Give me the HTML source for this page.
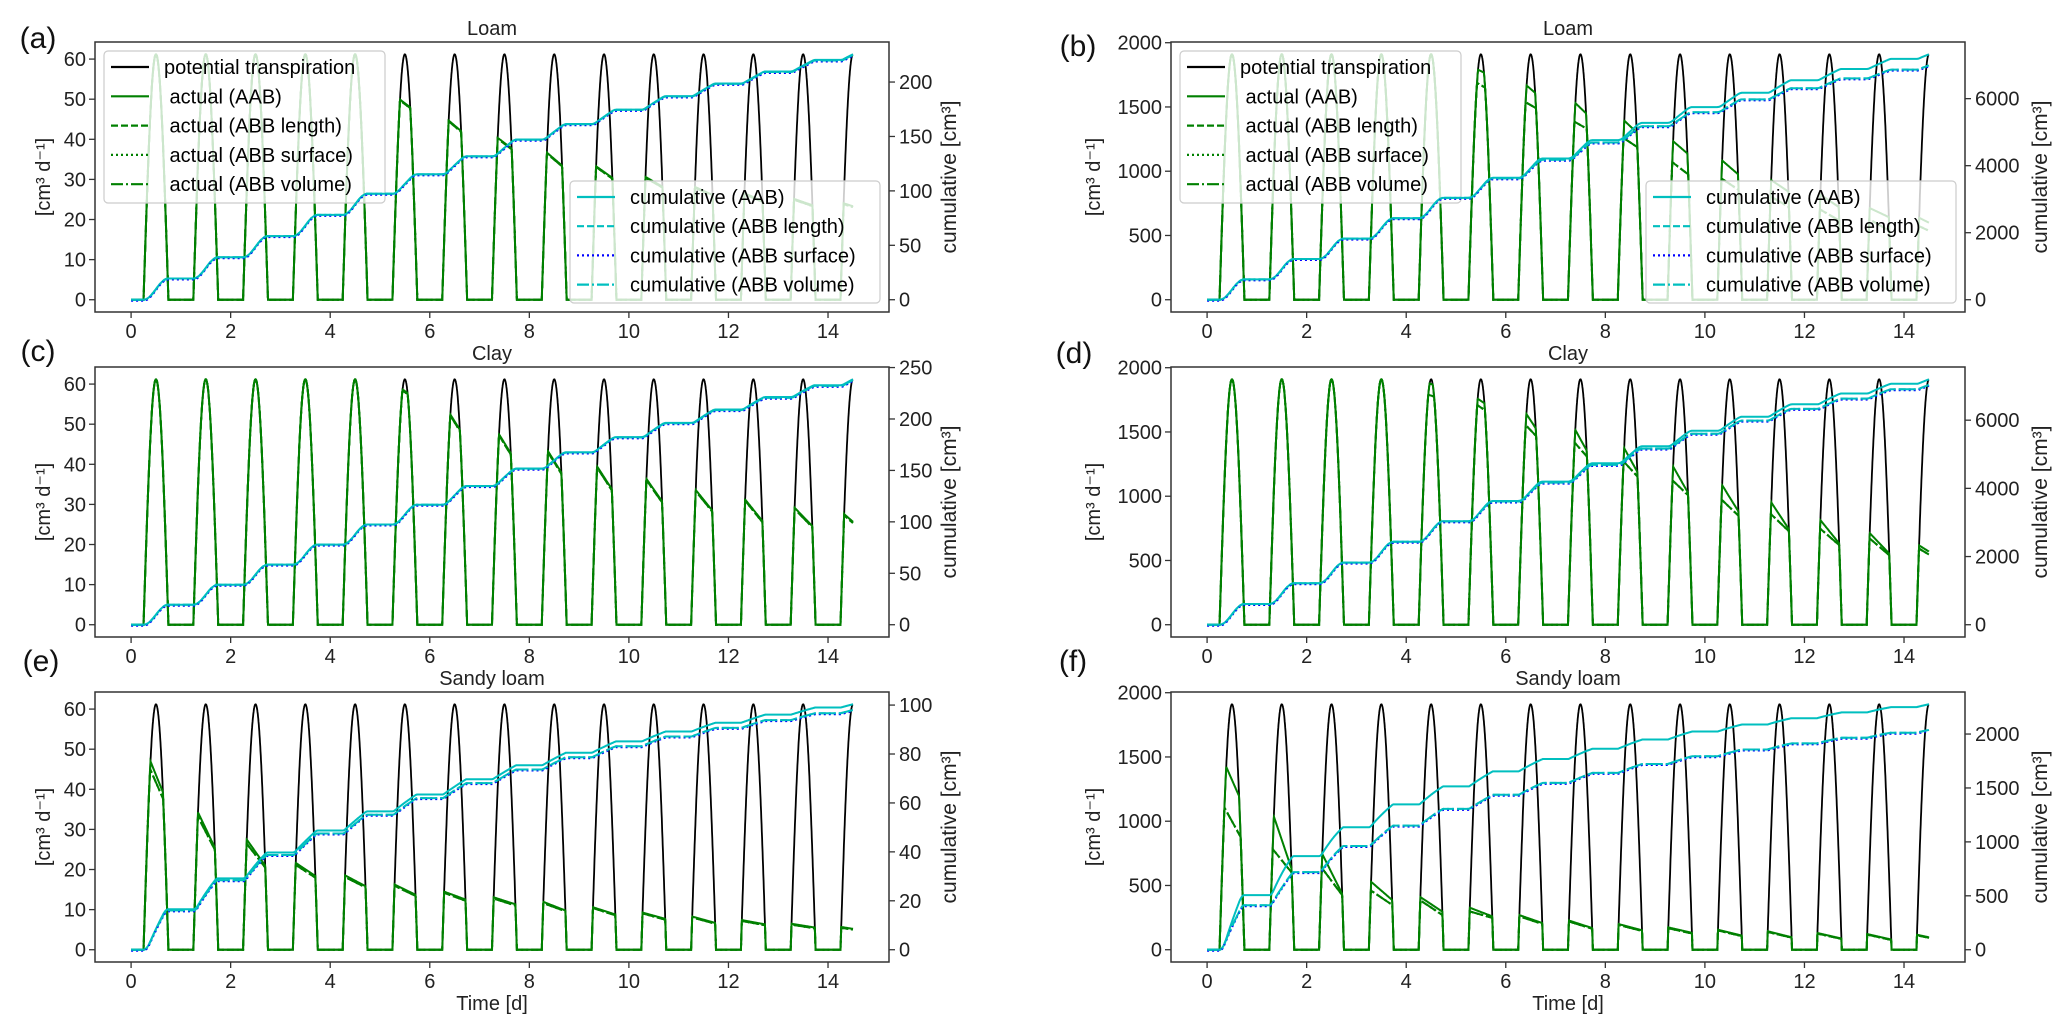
<!DOCTYPE html>
<html><head><meta charset="utf-8">
<style>
html,body{margin:0;padding:0;background:#fff;}
svg{display:block;font-family:"Liberation Sans","DejaVu Sans",sans-serif;}
</style></head>
<body>
<svg id="fig" width="2067" height="1033" viewBox="0 0 2067 1033" xmlns="http://www.w3.org/2000/svg"></svg>
<script>
// ---- data: per-day limit values (value at day fraction 0.35 = start, 0.7 = end); null = unlimited ----
const dayIndex = [0,1,2,3,4,5,6,7,8,9,10,11,12,13,14];
const potPeakSmall = 61.2;
const potPeakLarge = 1910;
// (a) Loam, small
const aAabStart = [null,null,null,null,null,50.4,45,40.5,36.7,33.2,30.5,28,26.4,25,23.9];
const aAabEnd   = [null,null,null,null,null,47.1,41.3,37.2,33,30.1,28,26,24.5,23.5,22.5];
const aAbbStart = [null,null,null,null,null,50.2,44.8,40.3,36.5,33,30.3,27.8,26.2,24.8,23.7];
const aAbbEnd   = [null,null,null,null,null,46.9,41.1,37,32.8,29.9,27.8,25.8,24.3,23.3,22.3];
// (b) Loam, large
const bAabStart = [null,null,null,null,null,1807,1690,1548,1405,1237,1082,926,810,706,629];
const bAabEnd   = [null,null,null,null,null,1742,1573,1418,1276,1121,965,836,719,642,560];
const bAbbStart = [null,null,null,null,null,1703,1548,1392,1263,1069,939,797,694,616,564];
const bAbbEnd   = [null,null,null,null,null,1625,1470,1315,1172,965,849,719,616,538,500];
// (c) Clay, small
const cAabStart = [null,null,null,null,null,59.5,53.7,48.3,43.8,39.7,36.4,33.5,31,28.9,27.3];
const cAabEnd   = [null,null,null,null,null,56.6,46.7,41.3,36.8,33,30.2,28.1,25.6,24.4,23.5];
const cAbbStart = [null,null,null,null,null,59.2,53.4,48,43.5,39.4,36.1,33.2,30.7,28.6,27];
const cAbbEnd   = [null,null,null,null,null,56.3,46.4,41,36.5,32.7,29.9,27.8,25.3,24.1,23.2];
// (d) Clay, large
const dAabStart = [null,null,null,null,1890,1781,1678,1549,1394,1239,1084,942,800,697,606];
const dAabEnd   = [null,null,null,null,1850,1690,1471,1303,1149,1000,865,736,632,555,520];
const dAbbStart = [null,null,null,null,1800,1729,1574,1432,1278,1123,968,852,736,658,581];
const dAbbEnd   = [null,null,null,null,1760,1639,1432,1278,1130,994,839,723,619,542,500];
// (e) Sandy loam, small
const eAabStart = [48.2,34.1,27,21.3,18.2,15.9,14.2,12.8,11.6,10.3,9,8,7.2,6.3,5.5];
const eAabEnd   = [37.4,25,20.9,18.4,15.9,13.8,12.6,11.4,9.9,8.9,7.8,6.8,6.4,5.6,4.8];
const eAbbStart = [46,33,26,20.8,17.8,15.6,13.9,12.5,11.3,10.1,8.8,7.8,7.0,6.1,5.3];
const eAbbEnd   = [36,24.5,20.4,18,15.6,13.5,12.3,11.1,9.7,8.7,7.6,6.6,6.2,5.4,4.7];
// (f) Sandy loam, large
const fAabStart = [1454,1027,717,510,393,316,259,217,191,166,147,135,122,114,109];
const fAabEnd   = [1144,626,445,393,303,264,212,173,155,135,114,101,91,83,80];
const fAbbStart = [1105,768,613,445,367,290,250,210,185,160,142,130,118,110,105];
const fAbbEnd   = [859,600,432,354,277,251,205,168,150,130,110,98,88,80,77];
// tick labels
const timeTicks = [0,2,4,6,8,10,12,14];
const leftTicksSmall = [0,10,20,30,40,50,60];
const leftTicksLarge = [0,500,1000,1500,2000];
const rightTicksA = [0,50,100,150,200];
const rightTicksC = [0,50,100,150,200,250];
const rightTicksE = [0,20,40,60,80,100];
const rightTicksBD = [0,2000,4000,6000];
const rightTicksF = [0,500,1000,1500,2000];
const legendActual = ["potential transpiration","\u00a0actual (AAB)","\u00a0actual (ABB length)","\u00a0actual (ABB surface)","\u00a0actual (ABB volume)"];
const legendCum = ["cumulative (AAB)","cumulative (ABB length)","cumulative (ABB surface)","cumulative (ABB volume)"];

const NS = "http://www.w3.org/2000/svg";
const svg = document.getElementById('fig');
function mk(tag, attrs, parent){
  const e = document.createElementNS(NS, tag);
  for (const k in attrs) e.setAttribute(k, attrs[k]);
  (parent||svg).appendChild(e);
  return e;
}
const T_END = 14.5, DT = 0.005;
function pot(t, A){
  const f = t - Math.floor(t);
  if (f <= 0.25 || f >= 0.75) return 0;
  return A*Math.sin(Math.PI*(f-0.25)/0.5);
}
function actual(t, A, S, E){
  const p = pot(t, A);
  const k = Math.min(14, Math.floor(t));
  if (S[k] === null) return p;
  const f = t - Math.floor(t);
  const L = S[k] + (E[k]-S[k])*(f-0.35)/(0.7-0.35);
  return Math.max(0, Math.min(p, L));
}
function series(fn){
  const ts=[], vs=[];
  const n = Math.round(T_END/DT);
  for (let i=0;i<=n;i++){ const t=i*DT; ts.push(t); vs.push(fn(t)); }
  return {ts, vs};
}
function cumul(s){
  const c=[0];
  for (let i=1;i<s.vs.length;i++) c.push(c[i-1] + 0.5*(s.vs[i]+s.vs[i-1])*(s.ts[i]-s.ts[i-1]));
  return {ts:s.ts, vs:c};
}

const COLW = 794, ROWH = 270;
const panels = [
  {id:'a', title:'Loam', x0:95, y0:42, A:potPeakSmall, aab:[aAabStart,aAabEnd], abb:[aAbbStart,aAbbEnd], lt:leftTicksSmall, rt:rightTicksA, legend:true, xlabel:false, lab:[38,37], ylx:43, rlo:60},
  {id:'b', title:'Loam', x0:1171, y0:42, A:potPeakLarge, aab:[bAabStart,bAabEnd], abb:[bAbbStart,bAbbEnd], lt:leftTicksLarge, rt:rightTicksBD, legend:true, xlabel:false, lab:[1078,45], ylx:1093, rlo:75},
  {id:'c', title:'Clay', x0:95, y0:367, A:potPeakSmall, aab:[cAabStart,cAabEnd], abb:[cAbbStart,cAbbEnd], lt:leftTicksSmall, rt:rightTicksC, legend:false, xlabel:false, lab:[38,350], ylx:43, rlo:60},
  {id:'d', title:'Clay', x0:1171, y0:367, A:potPeakLarge, aab:[dAabStart,dAabEnd], abb:[dAbbStart,dAbbEnd], lt:leftTicksLarge, rt:rightTicksBD, legend:false, xlabel:false, lab:[1074,352], ylx:1093, rlo:75},
  {id:'e', title:'Sandy loam', x0:95, y0:692, A:potPeakSmall, aab:[eAabStart,eAabEnd], abb:[eAbbStart,eAbbEnd], lt:leftTicksSmall, rt:rightTicksE, legend:false, xlabel:true, lab:[41,660], ylx:43, rlo:60},
  {id:'f', title:'Sandy loam', x0:1171, y0:692, A:potPeakLarge, aab:[fAabStart,fAabEnd], abb:[fAbbStart,fAbbEnd], lt:leftTicksLarge, rt:rightTicksF, legend:false, xlabel:true, lab:[1073,660], ylx:1093, rlo:75},
];

function pathD(s, xs, ys){
  let d='';
  for (let i=0;i<s.ts.length;i++){ d += (i?'L':'M') + xs(s.ts[i]).toFixed(1) + ' ' + ys(s.vs[i]).toFixed(1); }
  return d;
}
const GREEN='#008000', CYAN='#00bfbf', BLUE='#0000ff';

panels.forEach(P=>{
  const g = mk('g', {});
  
  
  const x1 = P.x0 + COLW, y1 = P.y0 + ROWH;
  const xmin = -0.725, xmax = 15.225;
  const xs = t => P.x0 + (t - xmin)/(xmax - xmin)*COLW;
  const lmin = -0.05*P.A, lmax = 1.05*P.A;
  const yL = v => y1 - (v - lmin)/(lmax - lmin)*ROWH;

  const sPot = series(t=>pot(t,P.A));
  const sAab = series(t=>actual(t,P.A,P.aab[0],P.aab[1]));
  const sAbbL = series(t=>actual(t,P.A,P.abb[0],P.abb[1]));
  const sAbbS = sAbbL, sAbbV = sAbbL;
  const cAab = cumul(sAab), cAbbL = cumul(sAbbL);
  const cmax = Math.max(cAab.vs[cAab.vs.length-1], cAbbL.vs[cAbbL.vs.length-1]);
  const rmin = -0.05*cmax, rmax = 1.05*cmax;
  const yR = v => y1 - (v - rmin)/(rmax - rmin)*ROWH;

  const clipId = 'clip-' + P.id;
  const defs = mk('defs', {}, g);
  const cp = mk('clipPath', {id:clipId}, defs);
  mk('rect', {x:P.x0, y:P.y0, width:COLW, height:ROWH}, cp);

  const la = mk('g', {'clip-path':'url(#'+clipId+')'}, g);
  const lp = mk('path', {d:pathD(sPot,xs,yL), fill:'none', stroke:'#000', 'stroke-width':1.8}, la);
  
  
  const la1 = mk('path', {d:pathD(sAab,xs,yL), fill:'none', stroke:GREEN, 'stroke-width':2}, la);
  
  
  const la2 = mk('path', {d:pathD(sAbbL,xs,yL), fill:'none', stroke:GREEN, 'stroke-width':2, 'stroke-dasharray':'7,3'}, la);
  
  
  const la3 = mk('path', {d:pathD(sAbbS,xs,yL), fill:'none', stroke:GREEN, 'stroke-width':2, 'stroke-dasharray':'2,3'}, la);
  
  
  const la4 = mk('path', {d:pathD(sAbbV,xs,yL), fill:'none', stroke:GREEN, 'stroke-width':2, 'stroke-dasharray':'12,3,2,3'}, la);
  
  

  function legend(x, y, w, h, items, styles, rowY0, rowStep, name){
    const lg = mk('g', {}, g);
    
    
    mk('rect', {x:x, y:y, width:w, height:h, rx:4, fill:'#fff', 'fill-opacity':0.8, stroke:'#ccc', 'stroke-width':1.2}, lg);
    items.forEach((txt,i)=>{
      const yy = rowY0 + i*rowStep;
      const st = styles[i];
      mk('line', {x1:x+7, x2:x+45, y1:yy, y2:yy, stroke:st[0], 'stroke-width':2.2, 'stroke-dasharray':st[1]}, lg);
      const t = mk('text', {x:x+60, y:yy+7, 'font-size':20, fill:'#000'}, lg);
      t.textContent = txt;
      
      
    });
  }
  if (P.legend){
    legend(P.x0+9, P.y0+9, 281, 152, legendActual,
      [['#000','none'],[GREEN,'none'],[GREEN,'7,3'],[GREEN,'2,3'],[GREEN,'12,3,2,3']], P.y0+25, 29.3, 'legend-actual');
  }

  const ra = mk('g', {'clip-path':'url(#'+clipId+')'}, g);
  const rc1 = mk('path', {d:pathD(cAab,xs,yR), fill:'none', stroke:CYAN, 'stroke-width':2}, ra);
  
  
  const rc2 = mk('path', {d:pathD(cAbbL,xs,yR), fill:'none', stroke:CYAN, 'stroke-width':2, 'stroke-dasharray':'7,3'}, ra);
  
  
  const rc3 = mk('path', {d:pathD(cAbbL,xs,v=>yR(v)+1), fill:'none', stroke:BLUE, 'stroke-width':2, 'stroke-dasharray':'2,3'}, ra);
  
  
  const rc4 = mk('path', {d:pathD(cAbbL,xs,yR), fill:'none', stroke:CYAN, 'stroke-width':2, 'stroke-dasharray':'12,3,2,3'}, ra);
  
  

  if (P.legend){
    legend(P.x0+475, P.y0+139, 310, 122, legendCum,
      [[CYAN,'none'],[CYAN,'7,3'],[BLUE,'2,3'],[CYAN,'12,3,2,3']], P.y0+155, 29.2, 'legend-cumulative');
  }

  const fr = mk('rect', {x:P.x0, y:P.y0, width:COLW, height:ROWH, fill:'none', stroke:'#333', 'stroke-width':1.5}, g);
  
  

  timeTicks.forEach(v=>{
    const x = xs(v);
    mk('line', {x1:x, x2:x, y1:y1, y2:y1+6, stroke:'#333', 'stroke-width':1.3}, g);
    const t = mk('text', {x:x, y:y1+26, 'font-size':20, 'text-anchor':'middle', fill:'#222'}, g);
    t.textContent = v;
    
    
  });
  P.lt.forEach(v=>{
    const y = yL(v);
    mk('line', {x1:P.x0-6, x2:P.x0, y1:y, y2:y, stroke:'#333', 'stroke-width':1.3}, g);
    const t = mk('text', {x:P.x0-9, y:y+7, 'font-size':20, 'text-anchor':'end', fill:'#222'}, g);
    t.textContent = v;
    
    
  });
  P.rt.forEach(v=>{
    const y = yR(v);
    mk('line', {x1:x1, x2:x1+6, y1:y, y2:y, stroke:'#333', 'stroke-width':1.3}, g);
    const t = mk('text', {x:x1+10, y:y+7, 'font-size':20, 'text-anchor':'start', fill:'#222'}, g);
    t.textContent = v;
    
    
  });
  const tt = mk('text', {x:P.x0+COLW/2, y:P.y0-7, 'font-size':20, 'text-anchor':'middle', fill:'#222'}, g);
  tt.textContent = P.title;
  
  
  const pl = mk('text', {x:P.lab[0], y:P.lab[1]+11, 'font-size':30, 'text-anchor':'middle', fill:'#111'}, g);
  pl.textContent = '(' + P.id + ')';
  
  
  const yl = mk('text', {x:0, y:0, 'font-size':20, 'text-anchor':'middle', fill:'#222', transform:'translate('+(P.ylx+7)+','+(P.y0+ROWH/2)+') rotate(-90)'}, g);
  yl.textContent = '[cm³ d⁻¹]';
  
  
  const yr = mk('text', {x:0, y:0, 'font-size':21, 'text-anchor':'middle', fill:'#222', transform:'translate('+(x1+P.rlo+7)+','+(P.y0+ROWH/2)+') rotate(-90)'}, g);
  yr.textContent = 'cumulative [cm³]';
  
  
  if (P.xlabel){
    const xl = mk('text', {x:P.x0+COLW/2, y:y1+48, 'font-size':20, 'text-anchor':'middle', fill:'#222'}, g);
    xl.textContent = 'Time [d]';
    
    
  }
});
</script>
</body></html>
